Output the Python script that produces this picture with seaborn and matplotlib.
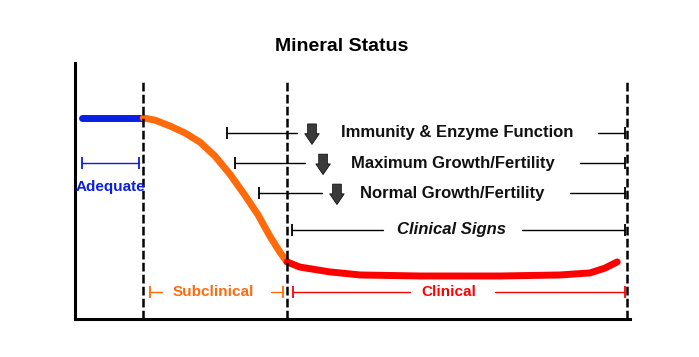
import numpy as np
import pandas as pd
import seaborn as sns
import matplotlib
matplotlib.use("Agg")
from matplotlib import pyplot as plt

# curve (x 0-100 across the axes, y 0-100 up the axes)
adequate_x = [1.3, 12.3]
adequate_y = [78.5, 78.5]
sub_x = [12.3, 14.4, 17.1, 19.8, 22.5, 25.2, 27.9, 30.6, 33.0, 35.1, 36.9, 38.2]
sub_y = [78.5, 77.7, 75.4, 72.7, 69.1, 63.7, 56.6, 48.4, 40.6, 32.4, 26.2, 22.3]
clin_x = [38.2, 40.5, 45.9, 51.4, 62.2, 76.6, 87.4, 92.8, 95.5, 97.7]
clin_y = [22.3, 20.3, 18.4, 17.2, 16.8, 16.8, 17.2, 18.0, 19.9, 22.3]

zone_edges = [12.3, 38.2, 99.5]

# range rows: label, y, left cap, left end, arrow x, text x, right start
rows = ["Immunity & Enzyme Function", "Maximum Growth/Fertility", "Normal Growth/Fertility"]
row_y = [72.7, 60.9, 49.2]
row_left = [27.4, 28.8, 33.2]
row_left_end = [40.0, 41.4, 44.5]
row_arrow = [42.7, 44.7, 47.2]
row_text = [68.8, 68.1, 67.9]
row_right = [94.2, 91.0, 89.2]

sns.set_style("white")
plt.rcParams['font.family'] = ['Liberation Sans', 'DejaVu Sans']

fig = plt.figure(figsize=(6.99, 3.57), dpi=100)
ax = fig.add_axes([75/699, 38/357, 555/699, 256/357])
ax.set_xlim(0, 100)
ax.set_ylim(0, 100)

df_a = pd.DataFrame({"x": adequate_x, "y": adequate_y})
df_s = pd.DataFrame({"x": sub_x, "y": sub_y})
df_c = pd.DataFrame({"x": clin_x, "y": clin_y})
sns.lineplot(data=df_a, x="x", y="y", ax=ax, color="#0a1ee6", lw=5, sort=False, solid_capstyle="round")
sns.lineplot(data=df_s, x="x", y="y", ax=ax, color="#ff6a0a", lw=5, sort=False, solid_capstyle="round")
sns.lineplot(data=df_c, x="x", y="y", ax=ax, color="#ff0000", lw=5, sort=False, solid_capstyle="round")

for xe in zone_edges:
    ax.axvline(xe, ymin=0, ymax=0.934, color="black", lw=1.8, ls=(0, (3.5, 1.3)))


def seg(x0, x1, y, color, cap0=False, cap1=False, lw=1.0):
    ax.plot([x0, x1], [y, y], color=color, lw=lw)
    if cap0:
        ax.plot(x0, y, marker="|", ms=9, mew=lw + 0.3, color=color)
    if cap1:
        ax.plot(x1, y, marker="|", ms=9, mew=lw + 0.3, color=color)


for lab, y, l0, l1, ax_x, tx, r0 in zip(rows, row_y, row_left, row_left_end, row_arrow, row_text, row_right):
    seg(l0, l1, y, "black", cap0=True)
    seg(r0, 99.1, y, "black", cap1=True)
    ax.annotate("", xy=(ax_x, y - 4.5), xytext=(ax_x, y + 3.5),
                arrowprops=dict(arrowstyle="simple,head_width=0.75,head_length=0.55,tail_width=0.45",
                                mutation_scale=14, fc="#3a3a3a", ec="black", lw=0.5,
                                shrinkA=0, shrinkB=0))
    ax.text(tx, y, lab, ha="center", va="center", fontsize=12, fontweight="bold", color="#111111")

# clinical signs
seg(39.1, 55.5, 34.8, "black", cap0=True)
seg(80.5, 99.1, 34.8, "black", cap1=True)
ax.text(67.9, 34.8, "Clinical Signs", ha="center", va="center", fontsize=12,
        fontweight="bold", style="italic", color="#111111")

# adequate
seg(1.3, 11.5, 60.9, "#0a1ee6", cap0=True, cap1=True)
ax.text(6.3, 51.6, "Adequate", ha="center", va="center", fontsize=11, fontweight="bold", color="#0a1ee6")

# subclinical
seg(13.5, 15.7, 10.5, "#ff6a0a", cap0=True)
seg(35.3, 37.5, 10.5, "#ff6a0a", cap1=True)
ax.text(25.0, 10.5, "Subclinical", ha="center", va="center", fontsize=11, fontweight="bold", color="#ff6a0a")

# clinical
seg(39.3, 60.4, 10.5, "#ff0000", cap0=True)
seg(75.7, 99.1, 10.5, "#ff0000", cap1=True)
ax.text(67.4, 10.5, "Clinical", ha="center", va="center", fontsize=11, fontweight="bold", color="#ff0000")

ax.text(48.1, 106.3, "Mineral Status", ha="center", va="center", fontsize=14, fontweight="bold",
        color="black", clip_on=False)

ax.set_xticks([])
ax.set_yticks([])
ax.set_xlabel("")
ax.set_ylabel("")
for s in ["top", "right"]:
    ax.spines[s].set_visible(False)
for s in ["left", "bottom"]:
    ax.spines[s].set_color("black")
    ax.spines[s].set_linewidth(2.2)

fig.savefig("out.png", dpi=100)
